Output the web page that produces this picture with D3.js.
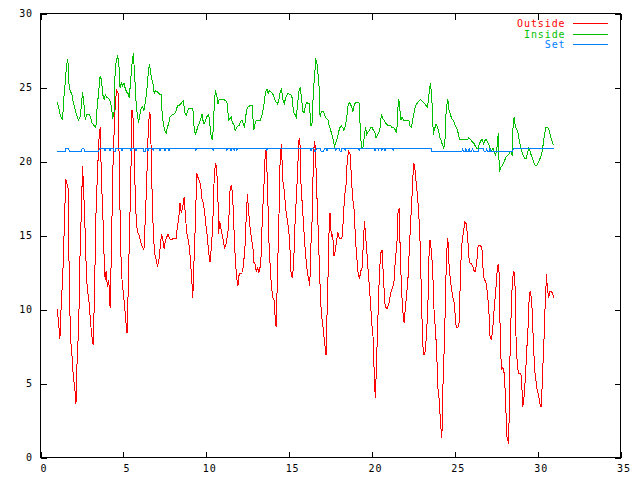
<!DOCTYPE html>
<html>
<head>
<meta charset="utf-8">
<script src="https://cdn.jsdelivr.net/npm/d3@7"></script>
<style>
  html, body { margin: 0; padding: 0; background: #fff; }
  svg { display: block; }
  text { font-family: "DejaVu Sans Mono", "Liberation Mono", monospace; font-size: 10px; letter-spacing: 0.9px; }
</style>
</head>
<body>
<svg id="chart" width="640" height="480"></svg>
<script>
// ---- data ----
const xTicks = [0, 5, 10, 15, 20, 25, 30, 35];
const yTicks = [0, 5, 10, 15, 20, 25, 30];
const seriesNames = ["Outside", "Inside", "Set"];
const seriesColors = ["#ff0000", "#00c000", "#0080ff"];

const outsideDay = [1.01,1.09,1.17,1.25,1.33,1.39,1.45,1.53,1.61,1.67,1.73,1.81,1.89,1.95,2.01,2.07,2.14,2.22,2.30,2.38,2.46,2.54,2.62,2.70,2.78,2.86,2.94,3.02,3.10,3.18,3.26,3.34,3.42,3.52,3.60,3.68,3.76,3.84,3.90,3.96,4.04,4.12,4.20,4.28,4.36,4.44,4.52,4.60,4.68,4.76,4.84,4.92,5.00,5.08,5.16,5.22,5.28,5.36,5.44,5.52,5.60,5.68,5.76,5.84,5.92,6.00,6.08,6.16,6.24,6.32,6.40,6.48,6.57,
6.62,6.68,6.74,6.80,6.86,6.92,6.98,7.06,7.14,7.22,7.30,7.38,7.46,7.54,7.62,7.70,7.78,7.86,8.02,8.18,8.26,8.34,8.42,8.50,8.58,8.67,8.75,8.83,8.91,8.99,9.07,9.13,9.19,9.27,9.35,9.43,9.51,9.59,9.67,9.75,9.83,9.91,9.99,10.07,10.15,10.23,10.31,10.39,10.47,10.55,10.63,10.71,10.75,10.81,10.87,10.95,11.03,11.11,11.19,11.27,11.35,11.43,11.51,11.59,11.67,11.75,11.83,11.91,11.99,12.07,12.19,12.27,12.35,12.43,12.49,12.55,
12.66,12.74,12.82,12.86,12.94,13.02,13.10,13.18,13.26,13.34,13.38,13.46,13.54,13.62,13.70,13.78,13.86,13.94,14.02,14.10,14.16,14.22,14.30,14.38,14.46,14.54,14.62,14.71,14.79,14.87,14.95,15.03,15.11,15.19,15.27,15.35,15.43,15.51,15.59,15.65,15.71,15.79,15.87,15.95,16.03,16.11,16.19,16.25,16.31,16.39,16.47,16.53,16.59,16.67,16.75,16.83,16.91,16.99,17.07,17.15,17.23,17.29,17.35,17.39,17.47,17.55,17.63,17.71,17.79,17.87,17.95,18.03,18.19,18.27,18.35,18.43,18.51,18.59,
18.69,18.77,18.85,18.93,19.01,19.09,19.17,19.25,19.33,19.41,19.49,19.55,19.61,19.69,19.77,19.85,19.93,20.01,20.09,20.13,20.17,20.21,20.29,20.37,20.45,20.53,20.61,20.70,20.78,20.86,20.94,21.02,21.10,21.18,21.26,21.34,21.42,21.50,21.58,21.66,21.70,21.78,21.86,21.94,22.02,22.10,22.18,22.26,22.34,22.40,22.46,22.52,22.58,22.66,22.74,22.82,22.90,22.98,23.06,23.14,23.22,23.30,23.38,23.42,23.50,23.58,23.66,23.74,23.82,23.90,23.98,24.06,24.14,24.22,24.30,24.38,24.46,24.54,24.58,24.66,
24.73,24.81,24.89,24.97,25.03,25.09,25.17,25.25,25.33,25.39,25.45,25.53,25.61,25.69,25.77,25.85,25.93,26.01,26.09,26.17,26.25,26.33,26.41,26.49,26.57,26.65,26.73,26.81,26.89,26.97,27.05,27.13,27.22,27.30,27.38,27.46,27.54,27.62,27.70,27.74,27.82,27.90,27.98,28.06,28.14,28.22,28.26,28.30,28.38,28.46,28.54,28.62,28.70,28.78,28.86,28.94,29.02,29.10,29.18,29.26,29.34,29.42,29.50,29.58,29.66,29.74,29.82,29.90,29.98,30.06,30.14,30.22,30.30,30.38,30.46,30.54,30.58,30.66,30.74,30.82,30.90,30.96];
const outsideTemp = [10.0,9.1,8.0,10.3,12.0,13.7,16.3,18.8,18.4,18.2,12.4,8.0,7.1,5.9,5.2,4.7,3.6,7.0,8.6,13.5,16.5,19.7,17.6,15.1,12.0,11.1,10.4,9.1,8.2,7.6,11.1,16.2,18.7,21.4,22.3,18.7,16.5,13.5,12.0,12.6,11.5,12.0,10.1,14.0,19.2,21.9,24.1,24.8,24.6,19.2,14.0,12.0,11.1,10.2,9.1,8.4,10.8,14.7,18.3,23.5,22.8,19.2,16.5,15.3,15.1,14.8,14.4,14.2,14.0,16.0,18.3,21.4,23.3,
23.2,20.7,17.6,15.5,14.2,13.6,13.4,12.9,13.3,14.2,15.1,14.7,14.1,14.7,14.9,15.1,14.8,14.7,14.8,14.8,15.6,16.1,17.2,16.5,16.9,17.6,16.2,15.2,14.7,14.2,12.9,12.0,10.8,13.5,16.0,19.2,18.9,18.7,18.3,17.4,17.2,16.5,15.6,14.9,13.8,13.2,14.2,15.6,18.5,19.9,19.6,17.4,15.1,16.0,15.6,15.1,14.7,14.1,14.4,14.9,15.6,18.0,18.4,17.8,15.6,13.5,12.2,11.6,12.4,12.4,12.5,13.3,14.4,16.7,17.8,16.7,
15.4,14.7,14.2,13.2,13.1,12.6,12.8,12.5,12.9,14.0,16.4,17.6,20.1,20.9,18.3,14.7,12.9,11.5,10.8,10.6,9.5,8.8,12.4,15.8,20.1,21.2,18.7,18.0,16.9,16.2,15.6,14.7,12.6,12.1,12.9,15.6,17.4,19.2,21.4,21.6,18.7,17.2,15.8,14.4,13.3,12.4,12.0,11.6,14.2,16.0,20.3,21.4,20.9,18.0,15.6,12.9,10.4,9.3,8.6,7.7,6.9,9.7,12.2,14.7,16.5,14.9,15.1,13.6,14.0,14.7,15.2,14.8,14.8,16.0,17.7,18.3,20.1,20.7,
20.5,18.7,17.4,16.7,14.7,13.5,12.4,12.1,12.6,12.8,14.7,16.0,15.1,14.0,12.6,11.5,10.1,8.8,7.9,5.9,4.7,4.0,6.8,9.7,12.4,13.8,14.0,12.1,10.4,10.1,10.1,10.4,10.9,11.3,11.5,12.0,13.5,14.2,16.7,16.8,14.2,11.5,9.9,9.1,10.1,11.1,12.2,14.2,16.0,17.2,18.7,19.9,19.7,18.7,17.8,16.6,14.7,11.3,7.7,6.9,7.2,8.4,10.4,13.1,14.7,14.0,12.9,10.1,8.8,7.4,4.7,3.9,2.3,1.3,5.5,7.9,12.0,14.4,14.8,12.9,
12.0,11.3,10.8,10.4,9.5,8.8,8.8,8.9,11.8,13.8,14.7,15.3,15.9,15.8,15.0,13.5,13.1,13.1,12.9,12.6,12.6,13.3,14.3,14.3,14.3,14.0,12.2,12.0,11.8,11.1,10.1,8.1,8.0,8.8,10.1,11.1,12.4,13.1,12.2,7.9,5.9,6.1,5.7,4.1,1.4,1.1,0.9,5.4,9.0,11.5,12.6,12.4,7.9,6.1,5.7,5.7,5.5,3.4,4.1,5.4,7.2,8.8,11.1,11.2,10.1,7.9,5.9,5.2,4.5,4.2,3.6,3.4,5.7,7.9,10.6,12.4,11.5,10.8,11.2,11.2,11.1,10.8];

const insideDay = [1.01,1.09,1.17,1.25,1.33,1.41,1.49,1.57,1.65,1.73,1.81,1.89,1.97,2.05,2.14,2.22,2.30,2.38,2.46,2.54,2.62,2.70,2.78,2.94,3.02,3.10,3.18,3.26,3.34,3.42,3.52,3.60,3.68,3.76,3.84,3.92,4.00,4.08,4.16,4.24,4.32,4.36,4.44,4.48,4.56,4.64,4.72,4.80,4.88,4.96,5.04,5.12,5.20,5.28,5.36,5.44,5.52,5.60,5.68,5.76,5.84,5.92,6.00,6.08,6.16,6.24,6.32,6.40,6.48,6.57,
6.70,6.78,6.86,6.94,7.06,7.14,7.22,7.30,7.34,7.42,7.50,7.58,7.66,7.74,7.82,7.90,7.98,8.06,8.14,8.22,8.30,8.38,8.46,8.54,8.62,8.71,8.79,8.87,8.95,9.03,9.11,9.19,9.27,9.35,9.43,9.51,9.59,9.67,9.75,9.83,9.91,9.99,10.07,10.15,10.23,10.31,10.39,10.47,10.55,10.63,10.71,10.79,10.87,11.03,11.19,11.27,11.35,11.43,11.51,11.59,11.67,11.75,11.83,11.91,11.99,12.07,12.15,12.23,12.31,12.39,12.47,12.55,
12.66,12.78,12.86,12.94,13.02,13.26,13.34,13.42,13.50,13.58,13.66,13.74,13.82,13.90,13.98,14.06,14.14,14.22,14.30,14.38,14.46,14.54,14.62,14.71,14.79,14.87,14.95,15.11,15.19,15.27,15.35,15.43,15.51,15.59,15.67,15.75,15.83,15.91,15.99,16.07,16.15,16.23,16.31,16.39,16.47,16.55,16.61,16.67,16.75,16.83,16.87,16.95,17.03,17.11,17.19,17.27,17.35,17.43,17.51,17.59,17.67,17.75,17.83,17.91,17.99,18.07,18.15,18.23,18.31,18.39,18.47,18.55,18.63,
18.69,18.77,18.85,18.93,19.01,19.17,19.25,19.29,19.33,19.37,19.45,19.53,19.61,19.69,19.77,19.85,19.93,20.01,20.09,20.17,20.25,20.33,20.41,20.49,20.57,20.65,20.74,20.82,20.90,20.98,21.14,21.22,21.30,21.38,21.46,21.54,21.58,21.62,21.66,21.74,21.82,21.90,22.22,22.30,22.38,22.46,22.54,22.62,22.70,22.78,22.86,22.94,23.02,23.10,23.18,23.26,23.34,23.42,23.46,23.54,23.58,23.66,23.70,23.78,23.86,23.94,24.02,24.10,24.18,24.26,24.34,24.42,24.46,24.50,24.58,24.66,
24.73,24.81,24.89,24.97,25.05,25.13,25.21,25.29,25.77,25.85,25.93,26.01,26.09,26.17,26.25,26.33,26.41,26.49,26.57,26.65,26.73,26.81,26.89,26.97,27.05,27.13,27.22,27.30,27.38,27.46,27.54,27.62,27.66,27.70,27.78,27.86,27.94,28.02,28.10,28.18,28.26,28.34,28.42,28.46,28.50,28.58,28.66,28.74,28.82,28.90,28.98,29.06,29.14,29.22,29.30,29.38,29.46,29.54,29.62,29.70,29.78,29.86,29.94,30.02,30.10,30.18,30.26,30.34,30.42,30.50,30.58,30.66,30.74,30.82,30.90,30.96];
const insideTemp = [24.0,23.7,23.2,23.0,22.8,24.3,25.3,26.5,26.9,25.0,24.7,24.6,24.0,23.7,23.3,23.0,22.8,23.0,23.7,24.7,23.9,22.8,23.2,23.2,23.0,22.6,22.5,22.4,22.3,23.7,24.8,25.8,25.5,24.5,24.2,24.5,24.3,24.3,24.2,23.9,23.3,22.9,23.4,25.5,26.7,27.1,26.8,25.0,25.3,25.1,25.3,24.9,24.7,24.6,24.3,25.5,26.6,27.3,25.9,24.1,23.2,22.6,23.2,23.6,23.7,23.4,24.0,24.6,25.7,26.6,
25.6,25.3,24.6,24.8,24.7,24.6,24.5,24.5,23.2,22.5,22.1,21.9,22.3,22.6,23.0,23.1,23.2,23.2,23.3,23.6,23.8,23.8,23.9,24.0,24.1,23.3,23.1,23.4,23.6,23.6,23.6,23.6,22.3,21.8,22.1,22.4,22.6,22.9,23.2,22.6,22.6,22.9,23.1,23.2,22.4,21.6,21.5,23.4,24.8,24.5,23.9,24.2,24.2,24.2,24.1,23.9,22.8,22.9,23.0,22.6,22.5,22.1,22.3,22.4,22.4,22.7,22.8,22.6,22.3,23.1,23.6,23.7,
23.8,23.8,22.1,22.5,22.8,22.8,23.0,23.4,24.0,24.7,24.9,24.6,24.8,24.7,24.6,24.5,24.2,24.0,23.9,24.1,24.7,24.9,24.2,23.9,24.3,24.5,24.6,24.5,24.3,23.3,23.2,23.0,23.8,24.7,25.0,24.3,23.4,23.3,23.8,24.0,23.9,23.9,22.4,22.6,24.8,25.9,26.9,26.8,25.9,24.8,23.0,23.4,23.4,23.3,23.0,22.9,22.8,22.4,22.1,21.8,21.4,21.0,21.3,21.6,22.0,22.3,22.4,22.3,22.1,22.4,22.9,23.7,24.0,
23.9,23.7,23.4,23.8,24.0,24.0,23.9,22.2,21.6,20.9,20.9,21.6,22.3,21.8,22.0,22.1,22.3,22.3,22.1,22.0,21.6,21.8,21.9,22.3,23.2,22.9,22.8,22.6,22.5,22.4,22.4,22.3,22.3,22.2,22.0,22.5,23.9,24.2,23.9,22.8,23.0,22.8,22.8,22.4,22.3,22.8,23.3,23.7,23.9,24.0,24.1,24.2,24.1,24.0,23.9,23.8,23.7,24.2,24.8,25.3,24.7,23.4,21.8,22.2,22.5,22.4,22.1,21.6,21.4,21.1,20.9,21.6,23.0,23.7,24.2,23.4,
23.2,22.9,22.8,22.6,22.4,22.2,21.9,21.5,21.5,21.6,21.5,21.4,21.3,21.2,21.0,20.9,20.9,21.2,21.4,21.5,21.2,21.4,21.5,21.3,21.2,20.9,20.7,20.9,20.7,20.4,20.9,21.9,20.3,19.3,19.6,19.7,19.9,20.1,20.3,20.4,20.5,20.7,20.6,20.4,22.1,23.0,22.3,22.2,21.9,21.4,20.9,20.6,20.4,20.2,20.2,20.5,20.9,20.7,20.4,20.2,19.9,19.7,19.7,19.9,20.1,20.3,20.6,21.2,21.9,22.3,22.3,22.2,21.9,21.5,21.3,21.1];

const setDay = [1.01,1.50,1.54,1.70,1.74,2.47,2.51,2.61,2.65,3.52,3.56,3.86,3.90,3.94,4.16,4.20,4.24,4.40,4.44,4.52,4.56,4.88,4.92,4.96,5.42,5.46,5.50,5.72,5.76,5.80,6.20,6.24,6.32,6.36,6.45,6.49,6.53,6.76,6.80,6.84,7.18,7.22,7.26,7.48,7.52,7.56,7.72,7.76,7.80,9.33,9.37,9.41,10.39,10.43,10.47,11.20,11.24,11.28,11.45,11.49,11.53,11.65,11.69,11.73,11.80,11.84,11.88,13.62,13.66,13.70,16.29,16.33,16.37,16.49,16.53,16.61,16.65,16.89,16.93,17.09,17.13,17.25,17.29,17.33,17.78,17.82,17.86,18.03,18.07,18.15,18.19,18.35,18.39,18.43,19.19,19.23,19.27,20.15,20.19,20.23,20.35,20.39,20.43,20.55,20.59,20.63,20.75,20.79,20.83,21.25,21.29,21.33,23.58,23.62,25.43,25.47,25.51,25.63,25.67,25.71,25.83,25.87,25.91,26.03,26.07,26.11,26.43,26.47,26.72,26.76,26.88,26.92,26.96,27.08,27.12,27.16,28.50,28.54,30.96];
const setTemp = [20.7,20.7,20.9,20.9,20.7,
20.7,20.9,20.9,20.7,
20.7,20.9,
20.9,20.7,20.9, 20.9,20.7,20.9, 20.9,20.7,20.7,20.9, 20.9,20.7,20.9, 20.9,20.7,20.9, 20.9,20.7,20.9,
20.9,20.7,20.7,20.9, 20.9,20.7,20.9, 20.9,20.7,20.9, 20.9,20.7,20.9, 20.9,20.7,20.9, 20.9,20.7,20.9,
20.9,20.7,20.9, 20.9,20.7,20.9, 20.9,20.7,20.9, 20.9,20.7,20.9, 20.9,20.7,20.9, 20.9,20.7,20.9,
20.9,20.7,20.9, 20.9,20.7,20.9, 20.9,20.7,20.7,20.9, 20.9,20.7,20.7,20.9, 20.9,20.7,20.9, 20.9,20.7,20.9,
20.9,20.7,20.7,20.9, 20.9,20.7,20.9, 20.9,20.7,20.9, 20.9,20.7,20.9, 20.9,20.7,20.9, 20.9,20.7,20.9,
20.9,20.7,20.9, 20.9,20.7,20.9,
20.9,20.7,
20.7,20.9,20.7, 20.7,20.9,20.7, 20.7,20.9,20.7, 20.7,20.9,20.7,
20.7,20.9,20.9,20.7, 20.7,20.9,20.7, 20.7,20.9,20.7,
20.7,20.9,20.9];

// ---- chart ----
const svg = d3.select("#chart");
const plotLeft = 40.5, plotRight = 620.5, plotTop = 13.5, plotBottom = 457.5;
const x = d3.scaleLinear().domain([0, 35]).range([plotLeft, plotRight]);
const y = d3.scaleLinear().domain([0, 30]).range([plotBottom, plotTop]);

svg.append("rect").attr("width", 640).attr("height", 480).attr("fill", "#fff");

function styleAxis(g) {
  g.attr("font-family", null).attr("font-size", null);
  g.select(".domain").remove();
  g.selectAll(".tick line").attr("stroke", "#000").attr("shape-rendering", "crispEdges");
  g.selectAll("text").attr("fill", "#000");
}

svg.append("g").attr("transform", `translate(0,${plotBottom})`)
  .call(d3.axisBottom(x).tickValues(xTicks).tickSizeInner(-6).tickSizeOuter(0).tickFormat(d3.format("d")))
  .call(styleAxis)
  .call(g => g.selectAll("text").attr("dx", 3).attr("y", 11).attr("dy", "0.32em"));
svg.append("g").attr("transform", `translate(0,${plotTop})`)
  .call(d3.axisTop(x).tickValues(xTicks).tickSizeInner(-6).tickSizeOuter(0).tickFormat(""))
  .call(styleAxis);
svg.append("g").attr("transform", `translate(${plotLeft},0)`)
  .call(d3.axisLeft(y).tickValues(yTicks).tickSizeInner(-6).tickSizeOuter(0).tickFormat(d3.format("d")))
  .call(styleAxis)
  .call(g => g.selectAll("text").attr("x", -7.5));
svg.append("g").attr("transform", `translate(${plotRight},0)`)
  .call(d3.axisRight(y).tickValues(yTicks).tickSizeInner(-6).tickSizeOuter(0).tickFormat(""))
  .call(styleAxis);

svg.append("rect")
  .attr("x", plotLeft).attr("y", plotTop).attr("width", plotRight - plotLeft).attr("height", plotBottom - plotTop)
  .attr("fill", "none").attr("stroke", "#000").attr("stroke-width", 1).attr("shape-rendering", "crispEdges");

const line = d3.line().x(d => x(d[0])).y(d => y(d[1]));
const series = [
  d3.zip(outsideDay, outsideTemp),
  d3.zip(insideDay, insideTemp),
  d3.zip(setDay, setTemp)
];

series.forEach((s, i) => {
  svg.append("path").datum(s)
    .attr("d", line)
    .attr("fill", "none")
    .attr("stroke", seriesColors[i])
    .attr("stroke-width", 1)
    .attr("shape-rendering", "crispEdges");
});

// legend
const legendY = [23.5, 34, 44.7];
const legend = svg.append("g");
seriesNames.forEach((name, i) => {
  legend.append("text")
    .attr("x", 565.5).attr("y", legendY[i]).attr("dy", "0.35em")
    .attr("text-anchor", "end").attr("fill", seriesColors[i]).text(name);
  legend.append("line")
    .attr("x1", 572.5).attr("x2", 607.5).attr("y1", legendY[i]).attr("y2", legendY[i])
    .attr("stroke", seriesColors[i]).attr("shape-rendering", "crispEdges");
});
</script>
</body>
</html>
